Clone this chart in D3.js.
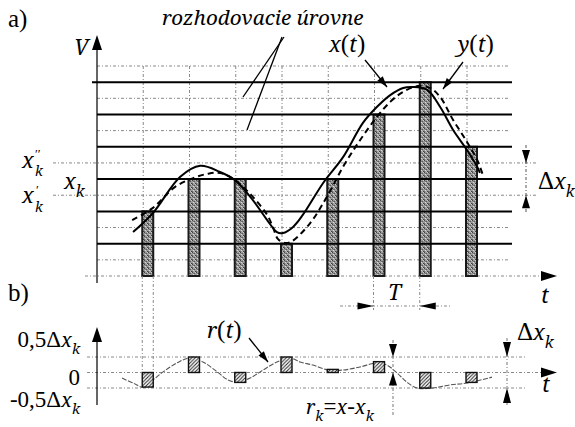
<!DOCTYPE html>
<html><head><meta charset="utf-8">
<script src="https://cdn.jsdelivr.net/npm/d3@7"></script>
<style>body{margin:0;background:#fff}svg{display:block}</style>
</head><body>
<svg id="c" width="575" height="427"></svg>
<script>
// ---------------- data ----------------
const sampleT = [1, 2, 3, 4, 5, 6, 7, 8];
const quantLevels = [2, 3, 3, 1, 3, 5, 6, 4];          // x_k in units of Δx_k
const quantErr = [-0.47, 0.5, -0.32, 0.5, 0.1, 0.35, -0.5, -0.32]; // r_k in units of Δx_k
const outputLevels = [1, 2, 3, 4, 5, 6];
const decisionLevels = [0.5, 1.5, 2.5, 3.5, 4.5, 5.5, 6.5];
const xCurveT = [0.78, 1.21, 1.8, 2.23, 2.66, 2.98, 3.37, 3.68, 3.89, 4.02, 4.24, 4.45, 4.89, 5.32, 5.75, 6.05, 6.34, 6.62, 6.83, 7.14, 7.42, 7.7, 8.0, 8.22, 8.28];
const xCurveV = [1.36, 1.95, 3.07, 3.41, 3.22, 2.97, 2.35, 1.73, 1.36, 1.33, 1.52, 1.89, 2.88, 3.68, 4.74, 5.23, 5.6, 5.82, 5.85, 5.76, 5.23, 4.52, 3.9, 3.38, 3.19];
const yCurveT = [0.76, 1.21, 1.69, 2.08, 2.38, 2.66, 2.98, 3.37, 3.68, 3.81, 3.91, 4.07, 4.22, 4.61, 4.97, 5.32, 5.69, 6.05, 6.34, 6.62, 6.94, 7.2, 7.42, 7.7, 8.0, 8.22, 8.35];
const yCurveV = [1.73, 2.11, 2.76, 3.03, 3.16, 3.19, 2.97, 2.45, 1.89, 1.49, 1.15, 1.02, 1.08, 1.64, 2.45, 3.38, 4.21, 4.92, 5.39, 5.7, 5.88, 5.82, 5.54, 4.83, 4.15, 3.59, 3.1];
const rCurveT = [0.54, 0.78, 1.0, 1.21, 1.43, 1.73, 2.01, 2.29, 2.6, 2.83, 3.05, 3.31, 3.59, 3.89, 4.17, 4.39, 4.67, 5.0, 5.32, 5.69, 6.05, 6.27, 6.49, 6.7, 6.92, 7.27, 7.63, 8.0, 8.54];
const rCurveR = [-0.18, -0.34, -0.47, -0.24, 0.02, 0.31, 0.47, 0.34, 0.02, -0.24, -0.31, -0.18, 0.08, 0.34, 0.47, 0.34, 0.24, 0.08, 0.08, 0.18, 0.31, 0.24, -0.02, -0.31, -0.5, -0.5, -0.4, -0.34, -0.15];
const rTickLabels = ["0,5", "0", "-0,5"];
const rTickValues = [0.5, 0, -0.5];

// ---------------- setup ----------------
const svg = d3.select('#c');
const FONT = "Times New Roman";
const IFONT = "Noto Serif";
const x = d3.scaleLinear().domain([0, 8]).range([97, 467]);
const yA = d3.scaleLinear().domain([0, 6.5]).range([276, 66]);
const yB = d3.scaleLinear().domain([-0.5, 0.5]).range([388, 357]);
const DOT = "3,2,1,2";
const GRID = "#8a8a8a";

const defs = svg.append('defs');
const stip = defs.append('pattern').attr('id', 'stip').attr('patternUnits', 'userSpaceOnUse').attr('width', 4).attr('height', 4);
stip.append('rect').attr('width', 4).attr('height', 4).attr('fill', '#9a9a9a');
[[0,0,'#444'],[2,1,'#5a5a5a'],[1,2,'#d8d8d8'],[3,3,'#404040'],[3,0,'#c8c8c8'],[0,3,'#6a6a6a'],[1,1,'#777'],[2,3,'#bbb']].forEach(p =>
  stip.append('rect').attr('x', p[0]).attr('y', p[1]).attr('width', 1).attr('height', 1).attr('fill', p[2]));
const hatch = defs.append('pattern').attr('id', 'hatch').attr('patternUnits', 'userSpaceOnUse').attr('width', 3.5).attr('height', 3.5);
hatch.append('rect').attr('width', 3.5).attr('height', 3.5).attr('fill', '#fff');
hatch.append('path').attr('d', 'M-1,1 L1,-1 M0,3.5 L3.5,0 M2.5,4.5 L4.5,2.5').attr('stroke', '#222').attr('stroke-width', 1);

function tri(cx, cy, dir, len, half) {
  const p = d3.path();
  if (dir === 'up') { p.moveTo(cx, cy); p.lineTo(cx - half, cy + len); p.lineTo(cx + half, cy + len); }
  if (dir === 'down') { p.moveTo(cx, cy); p.lineTo(cx - half, cy - len); p.lineTo(cx + half, cy - len); }
  if (dir === 'right') { p.moveTo(cx, cy); p.lineTo(cx - len, cy - half); p.lineTo(cx - len, cy + half); }
  if (dir === 'left') { p.moveTo(cx, cy); p.lineTo(cx + len, cy - half); p.lineTo(cx + len, cy + half); }
  p.closePath();
  svg.append('path').attr('d', p.toString()).attr('fill', '#000');
}
function line(x1, y1, x2, y2, w, dash, col) {
  const l = svg.append('line').attr('x1', x1).attr('y1', y1).attr('x2', x2).attr('y2', y2)
    .attr('stroke', col || '#000').attr('stroke-width', w || 1);
  if (dash) l.attr('stroke-dasharray', dash);
  return l;
}
function pointer(x1, y1, x2, y2) {
  line(x1, y1, x2, y2, 1.3);
  const a = Math.atan2(y2 - y1, x2 - x1), L = 11, H = 3.5;
  const bx = x2 - L * Math.cos(a), by = y2 - L * Math.sin(a);
  const p = d3.path();
  p.moveTo(x2, y2);
  p.lineTo(bx + H * Math.sin(a), by - H * Math.cos(a));
  p.lineTo(bx - H * Math.sin(a), by + H * Math.cos(a));
  p.closePath();
  svg.append('path').attr('d', p.toString()).attr('fill', '#000');
}
// segments: 'r' roman, 'i' italic, 'sub' italic subscript
function rich(xp, yp, size, segs, anchor) {
  const t = svg.append('text').attr('x', xp).attr('y', yp).attr('font-size', size)
    .attr('font-family', FONT).attr('fill', '#000');
  if (anchor) t.attr('text-anchor', anchor);
  let base = 0;
  segs.forEach(([s, st]) => {
    const ts = t.append('tspan').text(s);
    if (st === 'i') ts.attr('font-style', 'italic').attr('font-family', IFONT).attr('font-size', size * 0.86);
    if (st === 'sub') {
      ts.attr('font-style', 'italic').attr('font-family', IFONT).attr('font-size', size * 0.62).attr('dy', size * 0.3 - base);
      base = size * 0.3;
    } else if (base) { ts.attr('dy', -base); base = 0; }
  });
  return t;
}

// ---------------- panel a: grid ----------------
decisionLevels.forEach(d => {
  const wide = (d === 2.5 || d === 3.5);
  line(wide ? 53 : 97, yA(d), wide ? 537 : 508, yA(d), 1, DOT, GRID);
});
sampleT.forEach(k => line(x(k), yA(6.5), x(k), 276, 1, DOT, GRID));
line(85, 276, 541, 276, 1, DOT, GRID);

// bars
svg.append('g').selectAll('rect').data(sampleT).join('rect')
  .attr('x', (k) => x(k) - 1).attr('width', 11)
  .attr('y', (k, i) => yA(quantLevels[i])).attr('height', (k, i) => 276 - yA(quantLevels[i]))
  .attr('fill', 'url(#stip)').attr('stroke', '#1a1a1a').attr('stroke-width', 2);

// output (quantization) levels
outputLevels.forEach(l => line(l === 6 ? 92 : 97, yA(l), 512, yA(l), 2, null, '#000'));

// axes
line(97, 283, 97, 48, 1.2);
tri(97, 35, 'up', 15, 5);
tri(557, 276, 'right', 16, 5);

// curves
const lg = d3.line().curve(d3.curveCatmullRom.alpha(0.5));
svg.append('path').attr('d', lg(xCurveT.map((t, i) => [x(t), yA(xCurveV[i])])))
  .attr('fill', 'none').attr('stroke', '#000').attr('stroke-width', 2);
svg.append('path').attr('d', lg(yCurveT.map((t, i) => [x(t), yA(yCurveV[i])])))
  .attr('fill', 'none').attr('stroke', '#000').attr('stroke-width', 2).attr('stroke-dasharray', '6,4');

// Δx_k dimension (top)
line(526, 145, 526, 212, 1, DOT, '#555');
tri(526, yA(3.5), 'down', 13, 4);
tri(526, yA(2.5), 'up', 13, 4);

// T dimension
line(x(6) - 1, 276, x(6) - 1, 310, 1, DOT, GRID);
line(x(7) - 1, 276, x(7) - 1, 310, 1, DOT, GRID);
line(340, 306, 450, 306, 1, DOT, GRID);
tri(x(6) - 1, 306, 'right', 16, 3.5);
tri(x(7) - 1, 306, 'left', 16, 3.5);

// pointers
line(284, 37, 243, 97, 1.3);
line(282, 37, 247, 130, 1.3);
pointer(365, 60, 387, 87);
pointer(463, 62, 443, 89);

// texts panel a
rich(8, 27, 25, [['a)', 'r']]);
rich(162, 25, 24, [['rozhodovacie úrovne', 'i']]);
rich(74, 55, 25, [['V', 'i']]);
rich(329, 52, 25, [['x', 'i'], ['(', 'r'], ['t', 'i'], [')', 'r']]);
rich(458, 52, 25, [['y', 'i'], ['(', 'r'], ['t', 'i'], [')', 'r']]);
rich(22, 168, 25, [['x', 'i']]);
rich(35, 158, 13, [['\u2032\u2032', 'r']]);
rich(35, 176, 16, [['k', 'i']]);
rich(64, 189, 25, [['x', 'i'], ['k', 'sub']]);
rich(22, 203, 25, [['x', 'i']]);
rich(36, 194, 13, [['\u2032', 'r']]);
rich(35, 212, 16, [['k', 'i']]);
rich(538, 189, 25, [['\u0394', 'r'], ['x', 'i'], ['k', 'sub']]);
rich(388, 300, 25, [['T', 'i']]);
rich(541, 303, 25, [['t', 'i']]);

// ---------------- panel b ----------------
line(87, yB(0.5), 527, yB(0.5), 1, DOT, GRID);
line(87, yB(-0.5), 527, yB(-0.5), 1, DOT, GRID);
line(87, yB(0), 541, yB(0), 1, DOT, GRID);
line(x(1) - 1, 276, x(1) - 1, yB(0), 1, DOT, GRID);
line(x(1) + 10, 276, x(1) + 10, yB(0), 1, DOT, GRID);
line(97, 405, 97, 340, 1.2);
tri(97, 327, 'up', 15, 5);
tri(557, yB(0), 'right', 16, 5);

svg.append('path').attr('d', lg(rCurveT.map((t, i) => [x(t), yB(rCurveR[i])])))
  .attr('fill', 'none').attr('stroke', '#555').attr('stroke-width', 1.1).attr('stroke-dasharray', '5,1.5');

svg.append('g').selectAll('rect').data(sampleT).join('rect')
  .attr('x', (k) => x(k) - 1).attr('width', 11)
  .attr('y', (k, i) => Math.min(yB(0), yB(quantErr[i])))
  .attr('height', (k, i) => Math.abs(yB(quantErr[i]) - yB(0)))
  .attr('fill', 'url(#hatch)').attr('stroke', '#111').attr('stroke-width', 1.4);

// r_k dimension
line(393, 340, 393, 417, 1, DOT, '#777');
tri(393, yB(0.5), 'down', 13, 4);
tri(393, yB(0), 'up', 13, 4);
// Δx_k dimension (bottom)
line(507, 338, 507, 405, 1, DOT, '#777');
tri(507, yB(0.5), 'down', 15, 4);
tri(507, yB(-0.5), 'up', 15, 4);

pointer(249, 338, 268, 362);

rich(8, 301, 25, [['b)', 'r']]);
rich(80, yB(0.5) - 10, 23, [[rTickLabels[0], 'r'], ['\u0394', 'r'], ['x', 'i'], ['k', 'sub']], 'end');
rich(80, yB(0) + 12, 23, [[rTickLabels[1], 'r']], 'end');
rich(80, yB(-0.5) + 19, 23, [[rTickLabels[2], 'r'], ['\u0394', 'r'], ['x', 'i'], ['k', 'sub']], 'end');
rich(207, 338, 25, [['r', 'i'], ['(', 'r'], ['t', 'i'], [')', 'r']]);
rich(306, 414, 23, [['r', 'i'], ['k', 'sub'], ['=', 'r'], ['x', 'i'], ['-', 'r'], ['x', 'i'], ['k', 'sub']]);
rich(517, 340, 25, [['\u0394', 'r'], ['x', 'i'], ['k', 'sub']]);
rich(542, 392, 25, [['t', 'i']]);
</script>
</body></html>
